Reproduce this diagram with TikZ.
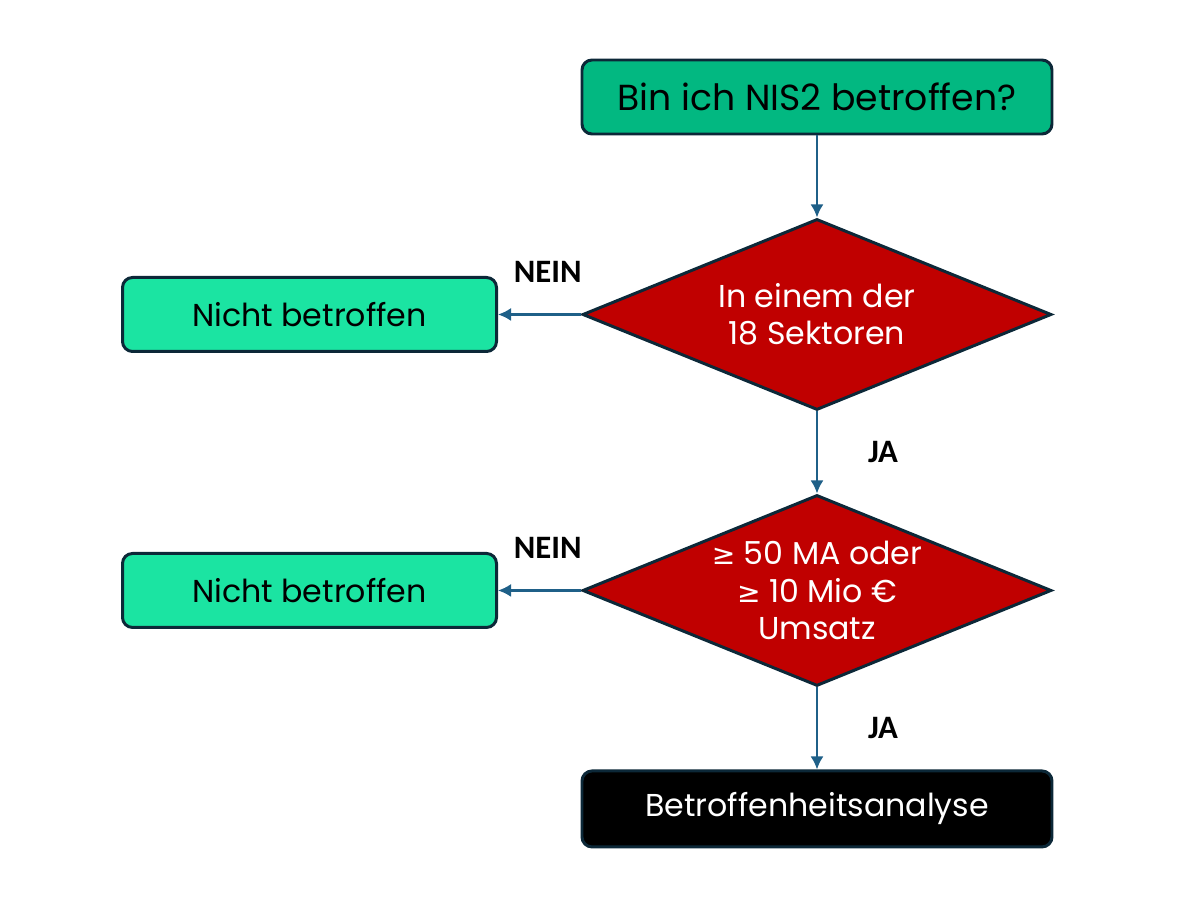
\documentclass[tikz,border=0pt]{standalone}
\usepackage{fontspec}
\setmainfont{Poppins}
\newfontfamily\lblfont{Carlito}
\newfontfamily\symfont{DejaVu Sans}
\usetikzlibrary{arrows.meta,positioning,shapes.geometric}

\definecolor{headgreen}{RGB}{2,184,129}
\definecolor{nogreen}{RGB}{27,228,162}
\definecolor{decred}{RGB}{192,0,0}
\definecolor{edge}{RGB}{12,40,56}
\definecolor{flow}{RGB}{31,96,136}

\newcommand{\atleast}{{\symfont\fontsize{8pt}{9pt}\selectfont ≥}}

\begin{document}
\begin{tikzpicture}[font=\fontsize{9pt}{10.4pt}\selectfont, >=Latex, node distance=8.2mm and 8.3mm,
  box/.style={draw=edge, rounded corners=1mm, line width=0.85pt, align=center, minimum height=7.4mm, minimum width=47mm},
  nobox/.style={box, fill=nogreen, minimum width=37.4mm},
  decision/.style={diamond, aspect=2.47, draw=edge, line width=0.85pt, fill=decred, text=white, align=center, minimum width=46.9mm, minimum height=19.1mm, inner sep=-2mm},
  lbl/.style={font=\lblfont\bfseries\fontsize{9.3pt}{10pt}\selectfont},
  arrow/.style={->, draw=flow, line width=0.6pt, >={Latex[length=1.3mm,width=1.3mm]}}]
  \useasboundingbox (0,0) rectangle (12,9);
  \node[box, fill=headgreen, font=\fontsize{10.3pt}{12pt}\selectfont] (start) at (8.17,8.03) {Bin ich NIS2 betroffen?};
  \node[decision, below=of start] (sector) {In einem der\\18 Sektoren};
  \node[decision, below=of sector, font=\fontsize{9pt}{10.8pt}\selectfont] (size) {\atleast{} 50 MA oder\\\atleast{} 10 Mio €\\Umsatz};
  \node[box, fill=black, text=white, minimum height=7.6mm, below=of size, font=\fontsize{9pt}{10pt}\selectfont] (analysis) {Betroffenheitsanalyse};
  \node[nobox, left=of sector] (no1) {Nicht betroffen};
  \node[nobox, left=of size] (no2) {Nicht betroffen};
  \draw[arrow] (start) -- (sector);
  \draw[arrow] (sector) -- node[lbl, xshift=6.6mm] (ja1) {JA} (size);
  \draw[arrow] (size) -- node[lbl, xshift=6.6mm] (ja2) {JA} (analysis);
  \draw[arrow] (sector) -- node[lbl, pos=0.4, yshift=4.3mm] (nein1) {NEIN} (no1);
  \draw[arrow] (size) -- node[lbl, pos=0.4, yshift=4.3mm] (nein2) {NEIN} (no2);
\end{tikzpicture}
\end{document}
